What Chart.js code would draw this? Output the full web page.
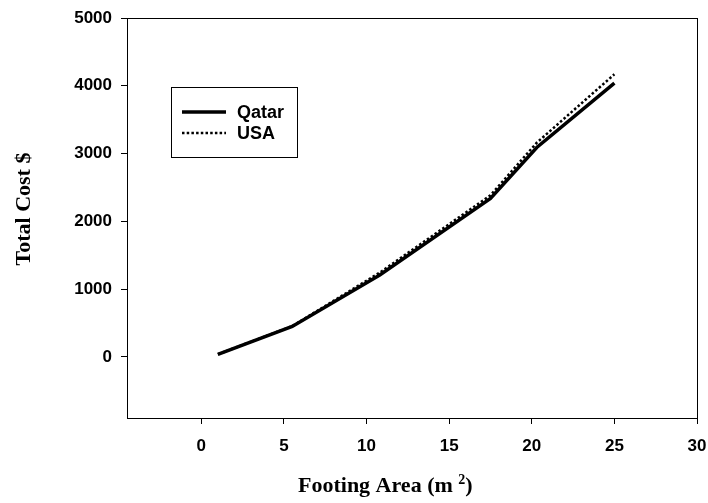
<!DOCTYPE html>
<html>
<head>
<meta charset="utf-8">
<script src="https://cdn.jsdelivr.net/npm/chart.js@4.4.0/dist/chart.umd.min.js"></script>
<style>
  body { margin: 0; background: #fff; }
  #wrap { width: 708px; height: 503px; }
</style>
</head>
<body>
<div id="wrap"><canvas id="myChart" width="708" height="503"></canvas></div>
<script>
// footing area (m2) and total cost ($)
const footArea = [1, 5.5, 10.8, 17.5, 20.3, 25];
const qatarCost = [40, 450, 1210, 2340, 3090, 4040];
const usaCost = [40, 455, 1245, 2385, 3160, 4170];

const xTicks = [0, 5, 10, 15, 20, 25, 30];
const yTicks = [0, 1000, 2000, 3000, 4000, 5000];

const xTitle = 'Footing Area (m ';
const xTitleSup = '2';
const yTitle = 'Total Cost $';

const tickFont = { family: 'Liberation Sans, Arial, sans-serif', size: 17, weight: 'bold' };

function points(ys) {
  return footArea.map((x, i) => ({ x: x, y: ys[i] }));
}

// box round the plot, legend inside it, axis titles
const framePlugin = {
  id: 'frame',
  afterDraw(chart) {
    const ctx = chart.ctx;
    const a = chart.chartArea;
    ctx.save();
    ctx.strokeStyle = '#000';
    ctx.fillStyle = '#000';
    ctx.lineWidth = 1;
    ctx.strokeRect(a.left + 0.5, a.top + 0.5, a.right - a.left, a.bottom - a.top);

    // legend
    const bx = 171, by = 87, bw = 126, bh = 70;
    ctx.strokeRect(bx + 0.5, by + 0.5, bw, bh);
    const rows = [112, 133];
    chart.data.datasets.forEach((ds, i) => {
      const y = rows[i];
      ctx.beginPath();
      ctx.lineWidth = ds.borderWidth;
      ctx.setLineDash(ds.borderDash || []);
      ctx.moveTo(182, y);
      ctx.lineTo(226, y);
      ctx.stroke();
      ctx.setLineDash([]);
      ctx.font = 'bold 18px "Liberation Sans", Arial, sans-serif';
      ctx.textBaseline = 'middle';
      ctx.fillText(ds.label, 237, y + 1);
    });

    // x title with raised 2
    ctx.textBaseline = 'alphabetic';
    ctx.font = 'bold 22px "Liberation Serif", "Times New Roman", serif';
    let tx = 298;
    ctx.fillText(xTitle, tx, 492);
    tx += ctx.measureText(xTitle).width;
    ctx.font = 'bold 14px "Liberation Serif", "Times New Roman", serif';
    ctx.fillText(xTitleSup, tx, 484);
    tx += ctx.measureText(xTitleSup).width;
    ctx.font = 'bold 22px "Liberation Serif", "Times New Roman", serif';
    ctx.fillText(')', tx, 492);

    // y title
    ctx.translate(24, 209);
    ctx.rotate(-Math.PI / 2);
    ctx.textAlign = 'center';
    ctx.textBaseline = 'middle';
    ctx.fillText(yTitle, 0, 0);
    ctx.restore();
  }
};

const ctx = document.getElementById('myChart').getContext('2d');

// eslint-disable-next-line no-undef
const chart = new Chart(ctx, {
  type: 'line',
  data: {
    datasets: [{
      label: 'Qatar',
      data: points(qatarCost),
      borderColor: '#000',
      borderWidth: 3.5,
      pointRadius: 0,
      tension: 0,
    },
    {
      label: 'USA',
      data: points(usaCost),
      borderColor: '#000',
      borderWidth: 2.5,
      borderDash: [2.5, 2.2],
      pointRadius: 0,
      tension: 0,
    }]
  },
  options: {
    responsive: false,
    animation: false,
    layout: { padding: { top: 18, right: 11, left: 0, bottom: 0 } },
    plugins: {
      legend: { display: false },
      tooltip: { enabled: false }
    },
    scales: {
      x: {
        type: 'linear',
        min: -4.5,
        max: 30,
        afterBuildTicks(scale) {
          scale.ticks = xTicks.map(v => ({ value: v }));
        },
        afterFit(scale) {
          scale.height = 85;
          scale.paddingLeft = 0;
          scale.paddingRight = 0;
        },
        grid: { drawOnChartArea: false, tickLength: 6, color: '#000' },
        border: { color: '#000' },
        ticks: { color: '#000', font: tickFont, padding: 12, maxRotation: 0 }
      },
      y: {
        min: -900,
        max: 5000,
        afterBuildTicks(scale) {
          scale.ticks = yTicks.map(v => ({ value: v }));
        },
        afterFit(scale) {
          scale.width = 127;
          scale.paddingTop = 0;
          scale.paddingBottom = 0;
        },
        grid: { drawOnChartArea: false, tickLength: 6, color: '#000' },
        border: { color: '#000' },
        ticks: {
          color: '#000',
          font: tickFont,
          padding: 9,
          callback: v => String(v)
        }
      }
    }
  },
  plugins: [framePlugin]
});
</script>
</body>
</html>
